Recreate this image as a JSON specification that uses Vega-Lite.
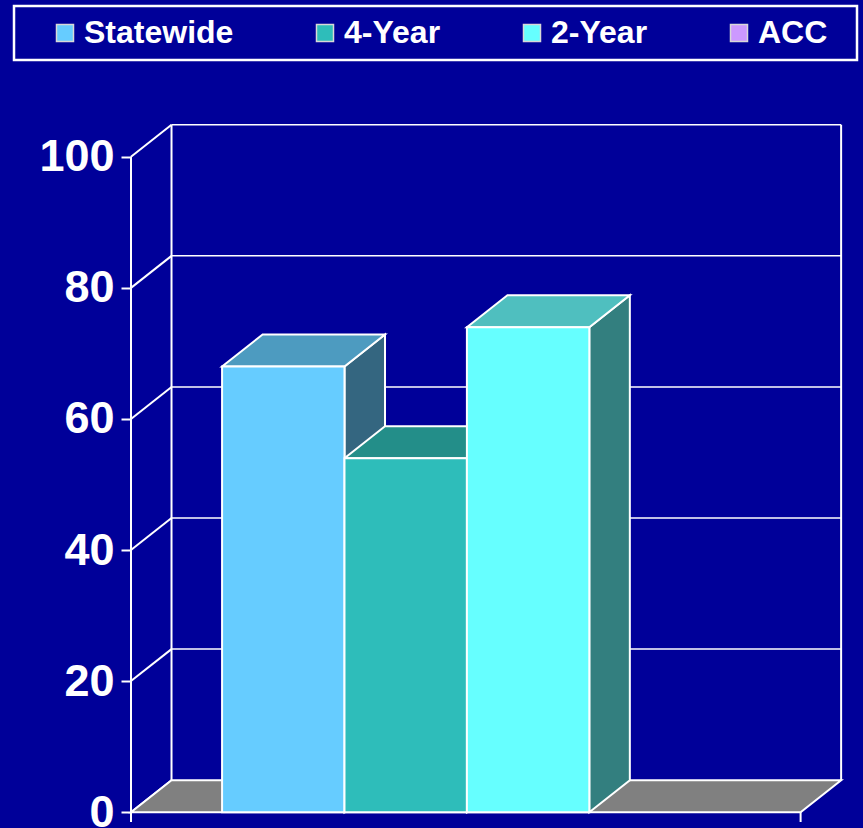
{
  "$schema": "https://vega.github.io/schema/vega-lite/v6.json",
  "width": 710,
  "height": 698,
  "autosize": {"type": "none"},
  "padding": {"left": 131, "top": 124, "right": 22, "bottom": 6},
  "background": "#000099",
  "config": {
    "view": {"stroke": null},
    "axisY": {
      "domain": false, "grid": false, "ticks": true, "tickColor": "#FFFFFF", "tickSize": 10, "tickWidth": 2,
      "labelColor": "#FFFFFF", "labelFont": "Liberation Sans", "labelFontSize": 45,
      "labelFontWeight": "bold", "labelPadding": 7, "labelBaseline": "middle", "labelOverlap": false
    }
  },
  "params": [
    {"name": "dx", "value": 0.331},
    {"name": "dy", "value": 4.88},
    {"name": "xr", "value": 5.47}
  ],
  "datasets": {
    "bars": [
      {"group": "Statewide", "pct": 68},
      {"group": "4-Year", "pct": 54},
      {"group": "2-Year", "pct": 74},
      {"group": "ACC", "pct": null}
    ],
    "ticks": [
      {"tick": 0}, {"tick": 20}, {"tick": 40}, {"tick": 60}, {"tick": 80}, {"tick": 100}
    ],
    "depth": [{"depth": 0}, {"depth": 1}]
  },
  "layer": [
    {
      "data": {"name": "ticks"},
      "transform": [
        {"filter": "datum.tick > 0"},
        {"calculate": "datum.tick + dy", "as": "gy"},
        {"calculate": "dx", "as": "gx0"},
        {"calculate": "xr + dx", "as": "gx1"}
      ],
      "mark": {"type": "rule", "color": "#FFFFFF", "strokeWidth": 1.5},
      "encoding": {
        "x": {"field": "gx0", "type": "quantitative", "scale": {"domain": [0, 5.8], "nice": false, "zero": false}, "axis": null},
        "x2": {"field": "gx1"},
        "y": {
          "field": "gy", "type": "quantitative",
          "scale": {"domain": [-1.5, 105], "nice": false, "zero": false},
          "axis": {"title": null, "values": [0, 20, 40, 60, 80, 100]}
        }
      }
    },
    {
      "data": {"name": "ticks"},
      "transform": [
        {"calculate": "datum.tick + dy", "as": "gy"},
        {"calculate": "0", "as": "gx0"},
        {"calculate": "dx", "as": "gx1"}
      ],
      "mark": {"type": "rule", "color": "#FFFFFF", "strokeWidth": 2},
      "encoding": {
        "x": {"field": "gx0", "type": "quantitative", "axis": null},
        "x2": {"field": "gx1"},
        "y": {"field": "tick", "type": "quantitative", "axis": {"title": null, "values": [0, 20, 40, 60, 80, 100]}},
        "y2": {"field": "gy"}
      }
    },
    {
      "data": {"name": "depth"},
      "transform": [
        {"calculate": "dx + datum.depth * xr", "as": "vx"},
        {"calculate": "dy", "as": "vy0"},
        {"calculate": "100 + dy", "as": "vy1"}
      ],
      "mark": {"type": "rule", "color": "#FFFFFF", "strokeWidth": 2},
      "encoding": {
        "x": {"field": "vx", "type": "quantitative", "axis": null},
        "y": {"field": "vy0", "type": "quantitative", "axis": {"title": null, "values": [0, 20, 40, 60, 80, 100]}},
        "y2": {"field": "vy1"}
      }
    },
    {
      "data": {"name": "depth"},
      "transform": [
        {"calculate": "datum.depth * xr", "as": "fx"},
        {"calculate": "-1.5", "as": "fy0"},
        {"calculate": "datum.depth == 0 ? 100 : 0", "as": "fy1"}
      ],
      "mark": {"type": "rule", "color": "#FFFFFF", "strokeWidth": 2},
      "encoding": {
        "x": {"field": "fx", "type": "quantitative", "axis": null},
        "y": {"field": "fy0", "type": "quantitative", "axis": {"title": null, "values": [0, 20, 40, 60, 80, 100]}},
        "y2": {"field": "fy1"}
      }
    },
    {
      "data": {"name": "depth"},
      "transform": [
        {"calculate": "datum.depth * dy", "as": "fy"},
        {"calculate": "datum.depth * dx", "as": "fx0"},
        {"calculate": "xr + datum.depth * dx", "as": "fx1"}
      ],
      "mark": {"type": "area", "orient": "horizontal", "fill": "#808080", "stroke": "#FFFFFF", "strokeWidth": 2},
      "encoding": {
        "y": {"field": "fy", "type": "quantitative", "axis": {"title": null, "values": [0, 20, 40, 60, 80, 100]}},
        "x": {"field": "fx0", "type": "quantitative", "axis": null, "stack": null},
        "x2": {"field": "fx1"}
      }
    },
    {
      "data": {"name": "bars"},
      "transform": [
        {"filter": "isValid(datum.pct)"},
        {"calculate": "indexof(['Statewide','4-Year','2-Year','ACC'], datum.group)", "as": "idx"},
        {"calculate": "0.744 + datum.idx + 1", "as": "x1"},
        {"calculate": "[0, 1]", "as": "depths"},
        {"flatten": ["depths"], "as": ["depth"]},
        {"calculate": "datum.x1 + datum.depth * dx", "as": "sx"},
        {"calculate": "datum.depth * dy", "as": "sy0"},
        {"calculate": "datum.pct + datum.depth * dy", "as": "sy1"}
      ],
      "mark": {"type": "area", "orient": "vertical", "stroke": "#FFFFFF", "strokeWidth": 2},
      "encoding": {
        "x": {"field": "sx", "type": "quantitative", "axis": null},
        "y": {"field": "sy1", "type": "quantitative", "axis": {"title": null, "values": [0, 20, 40, 60, 80, 100]}, "stack": null},
        "y2": {"field": "sy0"},
        "detail": {"field": "group", "type": "nominal"},
        "color": {
          "field": "group", "type": "nominal", "legend": null,
          "scale": {"domain": ["Statewide", "4-Year", "2-Year", "ACC"], "range": ["#346680", "#1F7E7C", "#337F7F", "#8866AA"]}
        }
      }
    },
    {
      "data": {"name": "bars"},
      "transform": [
        {"filter": "isValid(datum.pct)"},
        {"calculate": "indexof(['Statewide','4-Year','2-Year','ACC'], datum.group)", "as": "idx"},
        {"calculate": "0.744 + datum.idx", "as": "x0"},
        {"calculate": "datum.x0 + 1", "as": "x1"},
        {"calculate": "[0, 1]", "as": "depths"},
        {"flatten": ["depths"], "as": ["depth"]},
        {"calculate": "datum.pct + datum.depth * dy", "as": "ty"},
        {"calculate": "datum.x0 + datum.depth * dx", "as": "tx0"},
        {"calculate": "datum.x1 + datum.depth * dx", "as": "tx1"}
      ],
      "mark": {"type": "area", "orient": "horizontal", "stroke": "#FFFFFF", "strokeWidth": 2},
      "encoding": {
        "y": {"field": "ty", "type": "quantitative", "axis": {"title": null, "values": [0, 20, 40, 60, 80, 100]}},
        "x": {"field": "tx0", "type": "quantitative", "axis": null, "stack": null},
        "x2": {"field": "tx1"},
        "detail": {"field": "group", "type": "nominal"},
        "color": {
          "field": "group", "type": "nominal", "legend": null,
          "scale": {"domain": ["Statewide", "4-Year", "2-Year", "ACC"], "range": ["#4D9BC0", "#238E89", "#4FBFBF", "#9973BF"]}
        }
      }
    },
    {
      "data": {"name": "bars"},
      "transform": [
        {"filter": "isValid(datum.pct)"},
        {"calculate": "indexof(['Statewide','4-Year','2-Year','ACC'], datum.group)", "as": "idx"},
        {"calculate": "0.744 + datum.idx", "as": "x0"},
        {"calculate": "datum.x0 + 1", "as": "x1"},
        {"calculate": "0", "as": "base"}
      ],
      "mark": {"type": "rect", "stroke": "#FFFFFF", "strokeWidth": 2},
      "encoding": {
        "x": {"field": "x0", "type": "quantitative", "axis": null},
        "x2": {"field": "x1"},
        "y": {"field": "pct", "type": "quantitative", "axis": {"title": null, "values": [0, 20, 40, 60, 80, 100]}},
        "y2": {"field": "base"},
        "color": {
          "field": "group", "type": "nominal",
          "scale": {"domain": ["Statewide", "4-Year", "2-Year", "ACC"], "range": ["#66CCFF", "#2EBDBA", "#66FFFF", "#CC99FF"]},
          "legend": {
            "title": null, "orient": "none", "direction": "horizontal", "columns": 4,
            "legendX": -117, "legendY": -118,
            "padding": 11, "strokeColor": "#FFFFFF", "fillColor": "#000099",
            "symbolType": "square", "symbolSize": 289, "symbolStrokeColor": "#D8D8D8", "symbolStrokeWidth": 1.5,
            "symbolOffset": 24, "labelOffset": 3, "columnPadding": 51,
            "labelFont": "Liberation Sans", "labelFontSize": 32, "labelFontWeight": "bold",
            "labelColor": "#FFFFFF", "labelLimit": 400,
            "labelExpr": "datum.label == 'ACC' ? 'ACC\u00a0\u00a0\u200b' : datum.label",
            "encode": {"legend": {"update": {"strokeWidth": {"value": 2.5}}}}
          }
        }
      }
    }
  ],
  "resolve": {"scale": {"color": "independent"}}
}
